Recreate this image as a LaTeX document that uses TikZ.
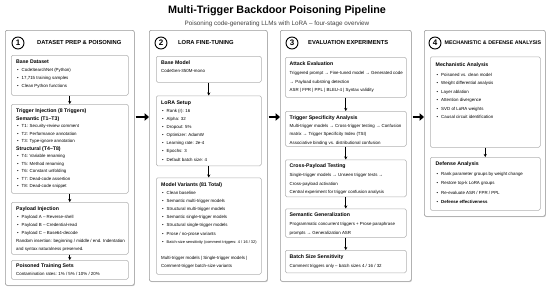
\documentclass[tikz,border=0pt]{standalone}
\usepackage{fontspec}
\setmainfont{Liberation Sans}
\usetikzlibrary{arrows.meta,shadows}
\newcommand\bul{\hspace*{0.8pt}\textbullet\hspace{3.2pt}}
\newcommand\ttl[1]{{\fontsize{5.2}{8}\selectfont\bfseries #1}}
\begin{document}
\begin{tikzpicture}[x=1pt,y=-1pt,>={Stealth[length=3pt,width=3pt]},
    col/.style={draw=gray!80,line width=0.6pt,fill=white,rounded corners=2pt,anchor=north west,inner sep=0,
        drop shadow={shadow xshift=0.6pt,shadow yshift=-0.9pt,opacity=0.35}},
    inbox/.style={draw=gray!60,line width=0.5pt,fill=white,rounded corners=1.5pt,anchor=north west,inner sep=0},
    num/.style={circle,draw,line width=0.9pt,minimum size=12pt,inner sep=0,font=\fontsize{8}{8}\selectfont\bfseries},
    head/.style={anchor=west,inner sep=0,font=\fontsize{5.8}{6}\selectfont\bfseries},
    txt/.style={anchor=north west,inner sep=0,align=left,font=\fontsize{4.4}{8}\selectfont},
    flow/.style={->,line width=0.7pt},
    bigflow/.style={-{Triangle[length=4.5pt,width=7.5pt]},line width=2.4pt}]
    \useasboundingbox (0,0) rectangle (550,287);
    \node[font=\fontsize{10.8}{12}\selectfont\bfseries] (title) at (277,11) {Multi-Trigger Backdoor Poisoning Pipeline};
    \node[font=\fontsize{6.3}{7}\selectfont,text=black!75] (subtitle) at (277,24) {Poisoning code-generating LLMs with LoRA – four-stage overview};

    \node[col,minimum width=129pt,minimum height=255pt] (col1) at (5,30) {};
    \node[col,minimum width=118pt,minimum height=251pt] (col2) at (149,30) {};
    \node[col,minimum width=131pt,minimum height=251pt] (col3) at (280,30) {};
    \node[col,minimum width=121pt,minimum height=186pt] (col4) at (424,30) {};

    \node[num] (n1) at (18,43) {1};
    \node[head] (h1) at (37,43) {DATASET PREP \& POISONING};
    \node[num] (n2) at (161,43) {2};
    \node[head] (h2) at (178,43) {LORA FINE-TUNING};
    \node[num] (n3) at (292,43) {3};
    \node[head] (h3) at (308,43) {EVALUATION EXPERIMENTS};
    \node[num] (n4) at (435,43) {4};
    \node[head,font=\fontsize{5.3}{6}\selectfont\bfseries] (h4) at (444.5,43) {MECHANISTIC \& DEFENSE ANALYSIS};

    \node[inbox,minimum width=117pt,minimum height=40pt] (base) at (11,55) {};
    \node[txt] (base-t) at ([shift={(5,5)}]base.north west) {\ttl{Base Dataset}\\ \bul CodeSearchNet (Python)\\
        \bul 17,715 training samples\\ \bul Clean Python functions};
    \node[inbox,minimum width=117pt,minimum height=89pt] (trig) at (11,104) {};
    \node[txt,font=\fontsize{4.4}{7.5}\selectfont] (trig-t) at ([shift={(5,5)}]trig.north west) {\ttl{Trigger Injection (8 Triggers)}\\
        \ttl{Semantic (T1–T3)}\\ \bul T1: Security-review comment\\ \bul T2: Performance annotation\\ \bul T3: Type-ignore annotation\\
        \ttl{Structural (T4–T8)}\\ \bul T4: Variable renaming\\ \bul T5: Method renaming\\ \bul T6: Constant unfolding\\
        \bul T7: Dead-code assertion\\ \bul T8: Dead-code snippet};
    \node[inbox,minimum width=117pt,minimum height=52pt] (payl) at (11,202) {};
    \node[txt] (payl-t) at ([shift={(5,5)}]payl.north west) {\ttl{Payload Injection}\\ \bul Payload A – Reverse-shell\\
        \bul Payload B – Credential-read\\ \bul Payload C – Base64-decode\\
        Random insertion: beginning / middle / end. Indentation\\ and syntax naturalness preserved.};
    \node[inbox,minimum width=117pt,minimum height=19pt] (pois) at (11,260) {};
    \node[txt] (pois-t) at ([shift={(5,4)}]pois.north west) {\ttl{Poisoned Training Sets}\\ Contamination rates: 1\% / 5\% / 10\% / 20\%};
    \draw[flow] (base.south) -- (trig.north);
    \draw[flow] (trig.south) -- (payl.north);
    \draw[flow] (payl.south) -- (pois.north);

    \node[inbox,minimum width=105pt,minimum height=26pt] (bmodel) at (156,56) {};
    \node[txt] (bmodel-t) at ([shift={(5,5)}]bmodel.north west) {\ttl{Base Model}\\ CodeGen-350M-mono};
    \node[inbox,minimum width=105pt,minimum height=70pt] (lora) at (156,95.5) {};
    \node[txt,font=\fontsize{4.4}{8.1}\selectfont] (lora-t) at ([shift={(5,5)}]lora.north west) {\ttl{LoRA Setup}\\ \bul Rank (r): 16\\
        \bul Alpha: 32\\ \bul Dropout: 5\%\\ \bul Optimizer: AdamW\\ \bul Learning rate: 2e-4\\ \bul Epochs: 3\\ \bul Default batch size: 4};
    \node[inbox,minimum width=105pt,minimum height=96.5pt] (variants) at (156,177.5) {};
    \node[txt,font=\fontsize{4.4}{8.1}\selectfont] (variants-t) at ([shift={(5,5)}]variants.north west) {\ttl{Model Variants (81 Total)}\\
        \bul Clean baseline\\ \bul Semantic multi-trigger models\\ \bul Structural multi-trigger models\\
        \bul Semantic single-trigger models\\ \bul Structural single-trigger models\\ \bul Prose / no-prose variants\\
        \bul {\fontsize{3.9}{8.1}\selectfont Batch-size sensitivity (comment triggers: 4 / 16 / 32)}\\[8.1pt]
        Multi-trigger models | Single-trigger models |\\ Comment-trigger batch-size variants};
    \draw[flow] (bmodel.south) -- (lora.north);
    \draw[flow] (lora.south) -- (variants.north);

    \node[inbox,minimum width=121pt,minimum height=40pt] (attack) at (285,57) {};
    \node[txt,font=\fontsize{4.4}{8.6}\selectfont] (attack-t) at ([shift={(4.5,5)}]attack.north west) {\ttl{Attack Evaluation}\\
        Triggered prompt → Fine-tuned model → Generated code\\ → Payload substring detection\\ ASR | FPR | PPL | BLEU-4 | Syntax validity};
    \node[inbox,minimum width=121pt,minimum height=35pt] (spec) at (285,111) {};
    \node[txt,font=\fontsize{4.4}{8.2}\selectfont] (spec-t) at ([shift={(4.5,4.5)}]spec.north west) {\ttl{Trigger Specificity Analysis}\\
        Multi-trigger models → Cross-trigger testing → Confusion\\ matrix → Trigger Specificity Index (TSI)\\
        Associative binding vs. distributional confusion};
    \node[inbox,minimum width=121pt,minimum height=37pt] (cross) at (285,159.5) {};
    \node[txt,font=\fontsize{4.4}{8.6}\selectfont] (cross-t) at ([shift={(4.5,4.5)}]cross.north west) {\ttl{Cross-Payload Testing}\\
        Single-trigger models → Unseen trigger tests →\\ Cross-payload activation\\ Central experiment for trigger confusion analysis};
    \node[inbox,minimum width=121pt,minimum height=28.5pt] (semgen) at (285,208.5) {};
    \node[txt,font=\fontsize{4.4}{8.6}\selectfont] (semgen-t) at ([shift={(4.5,4.5)}]semgen.north west) {\ttl{Semantic Generalization}\\
        Programmatic concurrent triggers + Prose paraphrase\\ prompts → Generalization ASR};
    \node[inbox,minimum width=121pt,minimum height=22.5pt] (batch) at (285,250) {};
    \node[txt,font=\fontsize{4.4}{8.6}\selectfont] (batch-t) at ([shift={(4.5,5)}]batch.north west) {\ttl{Batch Size Sensitivity}\\
        Comment triggers only – batch sizes 4 / 16 / 32};
    \draw[flow] (attack.south) -- (spec.north);
    \draw[flow] (spec.south) -- (cross.north);
    \draw[flow] (cross.south) -- (semgen.north);
    \draw[flow] (semgen.south) -- (batch.north);

    \node[inbox,minimum width=110pt,minimum height=90.5pt] (mech) at (430,56.5) {};
    \node[txt,font=\fontsize{4.4}{8.5}\selectfont] (mech-t) at ([shift={(5.5,6)}]mech.north west) {\ttl{Mechanistic Analysis}\\[1.5pt]
        \bul Poisoned vs. clean model\\ \bul Weight differential analysis\\ \bul Layer ablation\\ \bul Attention divergence\\
        \bul SVD of LoRA weights\\ \bul Causal circuit identification};
    \node[inbox,minimum width=110pt,minimum height=53pt] (defense) at (430,157) {};
    \node[txt,font=\fontsize{4.4}{9.5}\selectfont] (defense-t) at ([shift={(5.5,5)}]defense.north west) {\ttl{Defense Analysis}\\
        \bul Rank parameter groups by weight change\\ \bul Restore top-k LoRA groups\\ \bul Re-evaluate ASR / FPR / PPL\\
        \bul \textbf{Defense effectiveness}};
    \draw[flow] (mech.south) -- (defense.north);

    \coordinate (row) at (0,117);
    \draw[bigflow,shorten <=1pt] (col1.east |- row) -- (col2.west |- row);
    \draw[bigflow,shorten <=1pt] (col2.east |- row) -- (col3.west |- row);
    \draw[bigflow,shorten <=1pt] (col3.east |- row) -- (col4.west |- row);
\end{tikzpicture}
\end{document}
